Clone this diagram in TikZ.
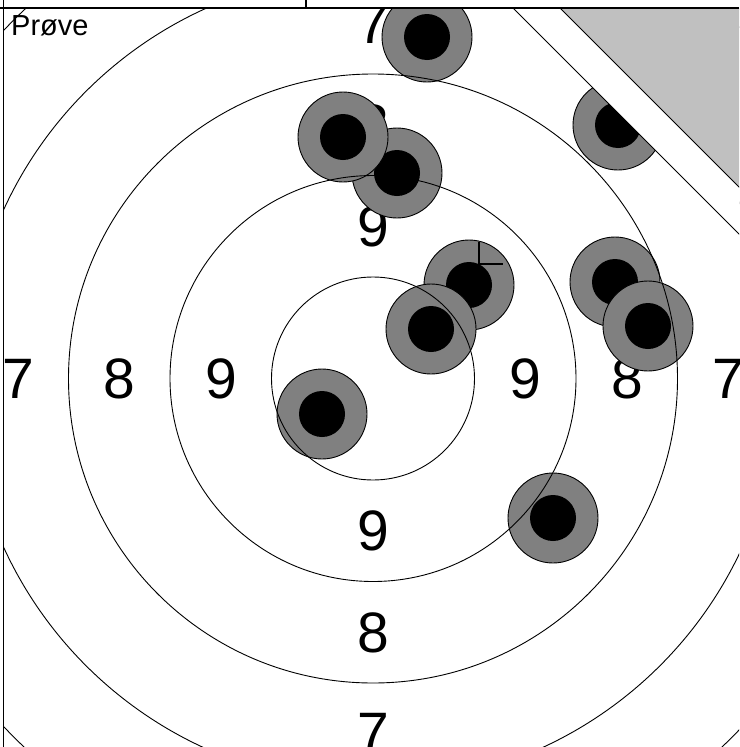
\documentclass[tikz,border=0pt]{standalone}
\usepackage{fontspec}
\setmainfont{Liberation Sans}
\definecolor{shotgray}{HTML}{808080}
\definecolor{proofgray}{HTML}{C0C0C0}
\begin{document}
\begin{tikzpicture}[x=1pt,y=-1pt,
  ringno/.style={inner sep=0pt, anchor=center, font=\fontsize{57}{57}\selectfont},
  shot/.style={circle, draw=black, line width=0.9pt, fill=shotgray, minimum size=90pt, inner sep=0pt,
    path picture={\fill[black] (path picture bounding box.center) circle (23pt);}},
  ring/.style={draw=black, line width=0.9pt},
  frameline/.style={draw=black, line width=1.2pt}]
\useasboundingbox (0,0) rectangle (739,747);
\fill[white] (0,0) rectangle (739,747);
\coordinate (c) at (373,378.5);
\begin{scope}
\clip (3.7,8) rectangle (739,747);
% ring numbers
\node[ringno] (h7l) at (18,378.5) {7};
\node[ringno] (h8l) at (119,378.5) {8};
\node[ringno] (h9l) at (221,378.5) {9};
\node[ringno] (h9r) at (525,378.5) {9};
\node[ringno] (h8r) at (627,378.5) {8};
\node[ringno] (h7r) at (728,378.5) {7};
\node[ringno] (v7t) at (373,24) {7};
\node[ringno] (v8t) at (373,124.5) {8};
\node[ringno] (v9t) at (373,226.5) {9};
\node[ringno] (v9b) at (373,530.5) {9};
\node[ringno] (v8b) at (373,632.5) {8};
\node[ringno] (v7b) at (373,733) {7};
% shots
\node[shot] (s1) at (427,37) {};
\node[shot] (s2) at (618,125) {};
\node[shot] (s4) at (397,173) {};
\node[shot] (s3) at (343,137) {};
\node[shot] (s5) at (469,285) {};
\node[shot] (s6) at (431,329) {};
\node[shot] (s7) at (615,282) {};
\node[shot] (s8) at (648,326) {};
\node[shot] (s9) at (322,414) {};
\node[shot] (s10) at (553,518) {};
% rings
\draw[ring] (c) circle (101.5pt);
\draw[ring] (c) circle (203pt);
\draw[ring] (c) circle (304.5pt);
\draw[ring] (c) circle (406pt);
\draw[ring] (c) circle (507.5pt);
% mark
\coordinate (m1) at (479,242);
\coordinate (m2) at (503,264);
\draw[line width=1.2pt] (m1) |- (m2);
% proof corner
\fill[white] (513,8) -- (745,8) -- (745,240) -- cycle;
\fill[proofgray] (560,8) -- (745,8) -- (745,193) -- cycle;
\draw[ring] (513,8) -- (745,240);
\draw[ring] (560,8) -- (745,193);
\end{scope}
% header
\draw[frameline, line width=1.5pt] (0,8) -- (739,8);
\draw[frameline] (3.7,0) -- (3.7,747);
\draw[frameline] (306,0) -- (306,8);
\node[inner sep=0pt, anchor=base west, font=\fontsize{29}{29}\selectfont] (lbl) at (11,35) {Prøve};
\end{tikzpicture}
\end{document}
